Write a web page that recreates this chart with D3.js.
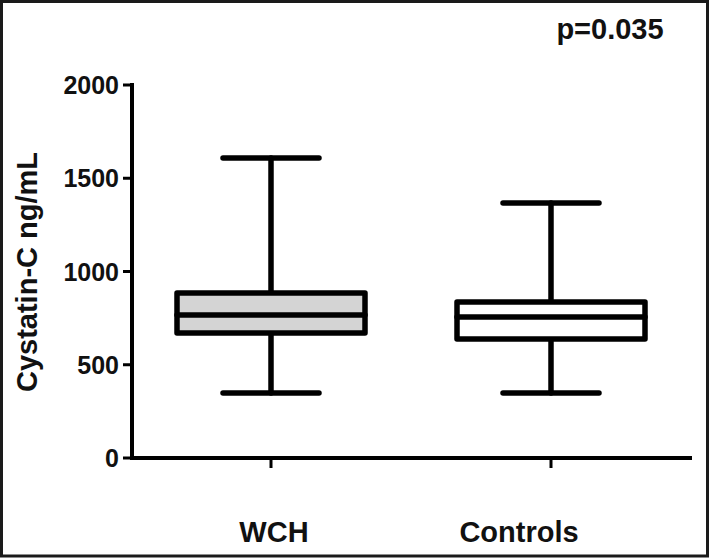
<!DOCTYPE html>
<html><head><meta charset="utf-8">
<script src="https://cdn.jsdelivr.net/npm/d3@7"></script>
<style>body{margin:0;background:#fff}svg{display:block}text{font-family:"Liberation Sans",Arial,sans-serif;font-weight:bold;fill:#111}</style>
</head><body>
<svg id="c" width="709" height="558"></svg>
<script>
const categories = ["WCH", "Controls"];
const whiskerLow = [349, 349];
const q1 = [670, 638];
const median = [767, 756];
const q3 = [885, 836];
const whiskerHigh = [1609, 1367];
const fills = ["#d4d4d4", "#ffffff"];
const yTicks = [0, 500, 1000, 1500, 2000];
const pText = "p=0.035";
const yTitle = "Cystatin-C ng/mL";

const svg = d3.select("#c");
svg.append("rect").attr("x",1.5).attr("y",1.5).attr("width",706).attr("height",554.5)
  .attr("fill","#fff").attr("stroke","#1a1a1a").attr("stroke-width",3);

const y = d3.scaleLinear().domain([0,2000]).range([458,85]);
const x = d3.scalePoint().domain(categories).range([271,551]);
const axX0 = 132, axX1 = 692;
const boxHalf = 94, capHalf = 48;

// y axis
const g = svg.append("g");
g.append("line").attr("x1",axX0).attr("x2",axX0).attr("y1",y(2000)-2).attr("y2",y(0)+2)
  .attr("stroke","#000").attr("stroke-width",4);
g.selectAll(".yt").data(yTicks).join("line")
  .attr("x1",axX0-9).attr("x2",axX0).attr("y1",d=>y(d)).attr("y2",d=>y(d))
  .attr("stroke","#000").attr("stroke-width",3);
g.selectAll(".yl").data(yTicks).join("text")
  .attr("x",119).attr("y",d=>y(d)).attr("dy","0.36em").attr("text-anchor","end")
  .style("font-size","25px").text(d=>d);

// x axis
g.append("line").attr("x1",axX0).attr("x2",axX1).attr("y1",y(0)).attr("y2",y(0))
  .attr("stroke","#000").attr("stroke-width",4);
g.selectAll(".xt").data(categories).join("line")
  .attr("x1",d=>x(d)).attr("x2",d=>x(d)).attr("y1",y(0)).attr("y2",y(0)+10)
  .attr("stroke","#000").attr("stroke-width",3);
const labelShift = [3, -32];
g.selectAll(".xl").data(categories).join("text")
  .attr("x",(d,i)=>x(d)+labelShift[i]).attr("y",542).attr("text-anchor","middle")
  .style("font-size","29px").text(d=>d);

// y title
svg.append("text").attr("transform","translate(37,272) rotate(-90)").attr("text-anchor","middle")
  .style("font-size","29px").text(yTitle);

// p value
svg.append("text").attr("x",610).attr("y",39).attr("text-anchor","middle")
  .style("font-size","29px").text(pText);

// boxes
const bx = svg.append("g").attr("stroke","#000").attr("stroke-width",5.5).attr("stroke-linecap","round");
categories.forEach((c,i)=>{
  const cx = x(c);
  bx.append("line").attr("x1",cx).attr("x2",cx).attr("y1",y(whiskerHigh[i])).attr("y2",y(q3[i]));
  bx.append("line").attr("x1",cx).attr("x2",cx).attr("y1",y(q1[i])).attr("y2",y(whiskerLow[i]));
  bx.append("line").attr("x1",cx-capHalf).attr("x2",cx+capHalf).attr("y1",y(whiskerHigh[i])).attr("y2",y(whiskerHigh[i]));
  bx.append("line").attr("x1",cx-capHalf).attr("x2",cx+capHalf).attr("y1",y(whiskerLow[i])).attr("y2",y(whiskerLow[i]));
  bx.append("rect").attr("x",cx-boxHalf).attr("width",2*boxHalf)
    .attr("y",y(q3[i])).attr("height",y(q1[i])-y(q3[i]))
    .attr("fill",fills[i]).attr("stroke-linejoin","round");
  bx.append("line").attr("x1",cx-boxHalf).attr("x2",cx+boxHalf).attr("y1",y(median[i])).attr("y2",y(median[i]));
});
</script>
</body></html>
